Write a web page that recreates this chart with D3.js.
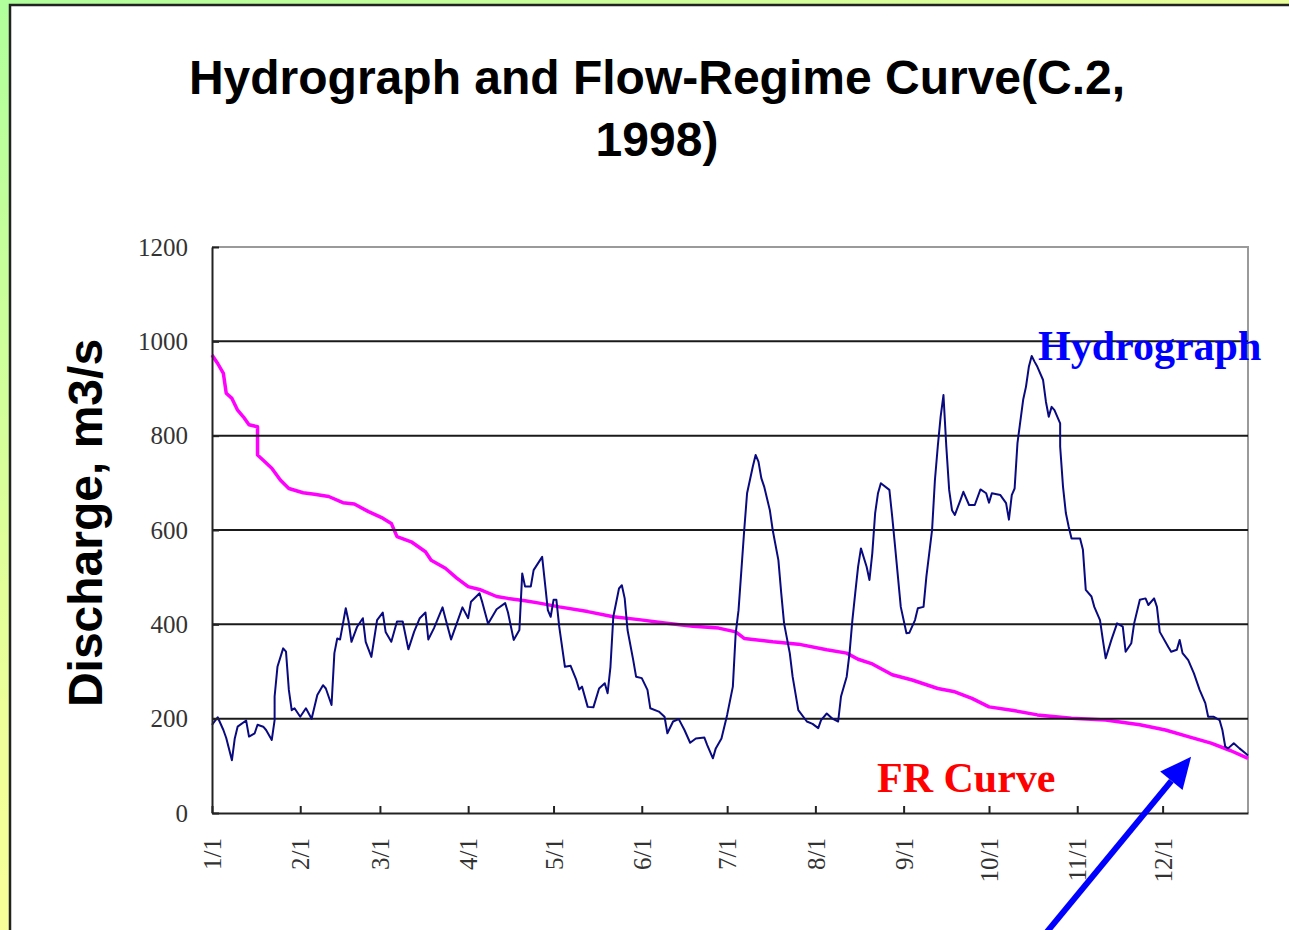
<!DOCTYPE html>
<html>
<head>
<meta charset="utf-8">
<script src="https://cdn.jsdelivr.net/npm/d3@7"></script>
<style>
  body { margin: 0; background: #fff; }
  svg { display: block; }
</style>
</head>
<body>
<svg width="1289" height="930"></svg>
<script>
// daily discharge (m3/s) at the line's turning points
const hydroDay = [0,2.2,4.0,5.7,7.5,8.7,9.8,12.2,13.9,15.7,16.9,18.6,19.8,21.0,22.1,22.7,23.6,25.1,26.5,27.4,
  28.4,29.8,31.2,33.0,35.0,37.4,39.1,40.9,42.4,43.2,44.0,45.6,47.1,48.2,49.6,51.4,53.2,54.9,56.5,58.4,
  60.8,61.9,63.5,65.1,67.5,69.6,71.7,73.7,75.2,76.4,78.4,81.1,82.7,84.2,86.0,88.3,90.1,91.6,94.2,95.9,
  97.9,100.0,103.0,104.7,106.5,108.2,109.6,110.6,112.3,113.5,116.4,117.6,118.5,119.7,120.5,121.1,122.5,124.6,126.4,128.1,
  129.1,130.5,132.6,134.2,136.9,138.7,139.6,140.4,141.6,143.4,144.3,145.5,146.3,148.0,149.8,151.5,153.3,154.5,157.4,159.8,
  160.9,162.1,164.4,166.8,168.9,170.9,173.2,174.4,176.1,177.9,179.7,181.4,183.2,184.4,185.3,186.1,187.6,188.8,190.0,191.1,
  192.0,193.5,194.9,196.3,197.8,199.0,200.5,201.9,203.3,204.8,206.6,209.0,211.3,213.4,214.8,216.5,218.1,220.6,221.8,223.0,
  224.2,225.1,226.3,227.7,228.9,230.1,231.2,232.4,233.6,234.8,235.9,238.2,239.4,240.6,241.7,242.9,244.1,245.5,247.0,248.5,
  250.5,251.7,253.2,254.4,255.2,256.0,257.2,258.1,259.1,260.5,261.9,263.4,264.6,266.3,268.7,270.8,272.2,273.4,274.8,277.5,
  279.0,280.1,281.6,282.7,283.9,285.1,286.3,287.4,288.6,289.8,290.9,292.1,293.3,294.4,295.6,296.8,298.0,298.6,299.4,300.3,
  301.5,302.6,305.0,306.2,307.3,309.1,310.6,312.0,313.2,314.9,316.7,318.4,320.0,321.6,323.5,324.9,326.7,328.2,329.3,331.3,
  332.5,333.7,336.0,337.8,339.2,340.4,341.9,343.6,345.7,347.7,349.5,350.9,352.8,354.4,355.3,356.5,357.7,359.4,361.2,363.0,364];
const hydroFlow = [187,203,176,159,112,158,183,196,162,169,187,183,176,155,197,247,310,349,342,261,
  218,222,204,222,200,250,271,264,229,339,370,368,434,406,363,395,413,363,331,409,
  425,384,363,406,406,347,384,413,425,368,392,436,413,368,402,436,413,448,466,446,
  401,432,445,425,367,388,508,480,480,515,543,487,430,416,452,452,395,310,312,282,
  262,268,225,224,264,275,254,310,416,476,483,455,388,324,289,286,261,222,215,204,
  169,194,199,176,149,158,160,144,116,137,158,208,268,381,430,515,600,678,734,759,
  745,710,692,642,600,536,466,402,339,289,218,194,189,180,197,211,200,194,247,289,
  339,409,466,522,561,522,494,551,636,678,699,685,628,565,501,437,381,382,409,434,
  437,501,600,706,777,840,886,777,685,642,632,664,681,653,653,686,678,658,678,674,
  657,622,674,688,784,876,904,946,969,957,946,918,872,840,861,854,826,777,692,636,
  607,582,582,558,473,459,437,409,367,328,367,402,395,342,360,402,452,455,441,455,
  437,384,352,342,346,367,339,324,296,261,233,204,204,197,176,141,137,148,137,127,122];

// flow-regime curve
const frDay = [0,2.2,4.0,5.7,7.5,9.8,11.6,13.9,16.6,16.9,18.0,21.0,24.5,27.4,32.1,36.8,41.5,46.1,50.8,55.5,
  60.2,63.1,65.5,70.7,75.4,77.8,82.5,86.0,90.7,94.8,100.0,104.7,110.6,115.2,122.3,132.8,141.0,150.4,159.8,169.1,
  178.5,184.4,187.9,197.2,206.6,216.0,223.0,227.7,232.4,239.4,246.4,255.8,261.7,267.5,273.4,281.6,290.9,302.6,314.4,326.1,
  335.5,343.6,351.8,358.8,364];
const frFlow = [971,953,932,890,879,854,840,823,819,759,748,731,706,688,679,676,671,658,655,639,
  625,614,586,575,554,536,519,498,480,474,459,455,450,445,437,427,416,410,403,396,
  392,384,370,363,358,346,339,326,316,293,282,264,257,243,225,218,208,201,197,187,
  176,162,148,132,116];

const yTicks = [0, 200, 400, 600, 800, 1000, 1200];
const titleLines = ["Hydrograph and Flow-Regime Curve(C.2,", "1998)"];

const start = new Date(1998, 0, 1), end = new Date(1998, 11, 31);
const toDate = d => new Date(1998, 0, 1 + d);

const svg = d3.select("svg");

// backdrop
const defs = svg.append("defs");
const grad = defs.append("linearGradient").attr("id", "bg")
    .attr("x1", 0).attr("y1", 0).attr("x2", 0.55).attr("y2", 0.75);
grad.append("stop").attr("offset", 0).attr("stop-color", "#b0ff9c");
grad.append("stop").attr("offset", 0.7).attr("stop-color", "#f0ff99");
grad.append("stop").attr("offset", 1).attr("stop-color", "#ffff99");
svg.append("rect").attr("width", 1289).attr("height", 930).attr("fill", "url(#bg)");
svg.append("rect")
    .attr("x", 10).attr("y", 5).attr("width", 1300).attr("height", 940)
    .attr("fill", "#fff").attr("stroke", "#222").attr("stroke-width", 2.5);

// title
svg.append("text")
    .attr("text-anchor", "middle")
    .style("font-family", "'Liberation Sans', Arial, sans-serif")
    .style("font-weight", "bold").style("font-size", "48px")
    .selectAll("tspan").data(titleLines).join("tspan")
    .attr("x", 657).attr("y", (d, i) => 94 + i * 62)
    .text(d => d);

const x = d3.scaleTime().domain([start, end]).range([212, 1248]);
const y = d3.scaleLinear().domain([0, 1200]).range([813, 247]);

// plot frame (top + right in grey)
svg.append("path")
    .attr("d", `M${x.range()[0]},${y(1200)}H${x.range()[1]}V${y(0)}`)
    .attr("fill", "none").attr("stroke", "#9a9a9a").attr("stroke-width", 2);

// flow-regime curve
const flowLine = d3.line().x(d => x(toDate(d[0]))).y(d => y(d[1]));
svg.append("path")
    .datum(d3.zip(frDay, frFlow))
    .attr("fill", "none").attr("stroke", "#ff00ff").attr("stroke-width", 3.5)
    .attr("stroke-linejoin", "round")
    .attr("d", flowLine);

// gridlines
svg.append("g").selectAll("line").data(yTicks.filter(v => v > 0 && v < 1200)).join("line")
    .attr("x1", x.range()[0]).attr("x2", x.range()[1])
    .attr("y1", d => y(d)).attr("y2", d => y(d))
    .attr("stroke", "#1a1a1a").attr("stroke-width", 2);

// hydrograph
svg.append("path")
    .datum(d3.zip(hydroDay, hydroFlow))
    .attr("fill", "none").attr("stroke", "#0a0a80").attr("stroke-width", 2)
    .attr("stroke-linejoin", "round")
    .attr("d", flowLine);

// axes
const yAxis = svg.append("g").attr("transform", `translate(${x.range()[0]},0)`)
    .call(d3.axisLeft(y).tickValues(yTicks).tickFormat(d3.format("d"))
        .tickSizeInner(-7).tickSizeOuter(0).tickPadding(24));
const xAxis = svg.append("g").attr("transform", `translate(0,${y(0)})`)
    .call(d3.axisBottom(x).ticks(d3.timeMonth.every(1)).tickFormat(d3.timeFormat("%-m/%-d"))
        .tickSizeInner(-7).tickSizeOuter(0));

[yAxis, xAxis].forEach(g => {
    g.select(".domain").attr("stroke", "#222").attr("stroke-width", 2);
    g.selectAll(".tick line").attr("stroke", "#222").attr("stroke-width", 2);
    g.selectAll("text")
        .style("font-family", "'Liberation Serif', 'Times New Roman', serif")
        .style("font-size", "25px").attr("fill", "#333");
});
xAxis.selectAll("text")
    .attr("y", 0).attr("x", -25).attr("dy", "0.35em")
    .attr("transform", "rotate(-90)")
    .style("text-anchor", "end");

// y title
svg.append("text")
    .attr("transform", "translate(102,523) rotate(-90)")
    .attr("text-anchor", "middle")
    .style("font-family", "'Liberation Sans', Arial, sans-serif")
    .style("font-weight", "bold").style("font-size", "48px")
    .text("Discharge, m3/s");

// annotations
svg.append("text")
    .attr("x", 1038).attr("y", 360)
    .attr("fill", "#0000ff")
    .style("font-family", "'Liberation Serif', 'Times New Roman', serif")
    .style("font-weight", "bold").style("font-size", "42px")
    .text("Hydrograph");
svg.append("text")
    .attr("x", 877).attr("y", 792)
    .attr("fill", "#ff0000")
    .style("font-family", "'Liberation Serif', 'Times New Roman', serif")
    .style("font-weight", "bold").style("font-size", "42px")
    .text("FR Curve");

// arrow pointing at the end of the FR curve
const tip = [x(toDate(344.7)), y(119)], tail = [x(toDate(292.8)), y(-262)];
const dx = tip[0] - tail[0], dy = tip[1] - tail[1], len = Math.hypot(dx, dy);
const ux = dx / len, uy = dy / len;
const base = [tip[0] - 31 * ux, tip[1] - 31 * uy];
svg.append("line")
    .attr("x1", tail[0]).attr("y1", tail[1]).attr("x2", base[0]).attr("y2", base[1])
    .attr("stroke", "#0000ff").attr("stroke-width", 6);
svg.append("path")
    .attr("d", `M${tip}L${base[0] - 14.5 * uy},${base[1] + 14.5 * ux}L${base[0] + 14.5 * uy},${base[1] - 14.5 * ux}Z`)
    .attr("fill", "#0000ff");
</script>
</body>
</html>
